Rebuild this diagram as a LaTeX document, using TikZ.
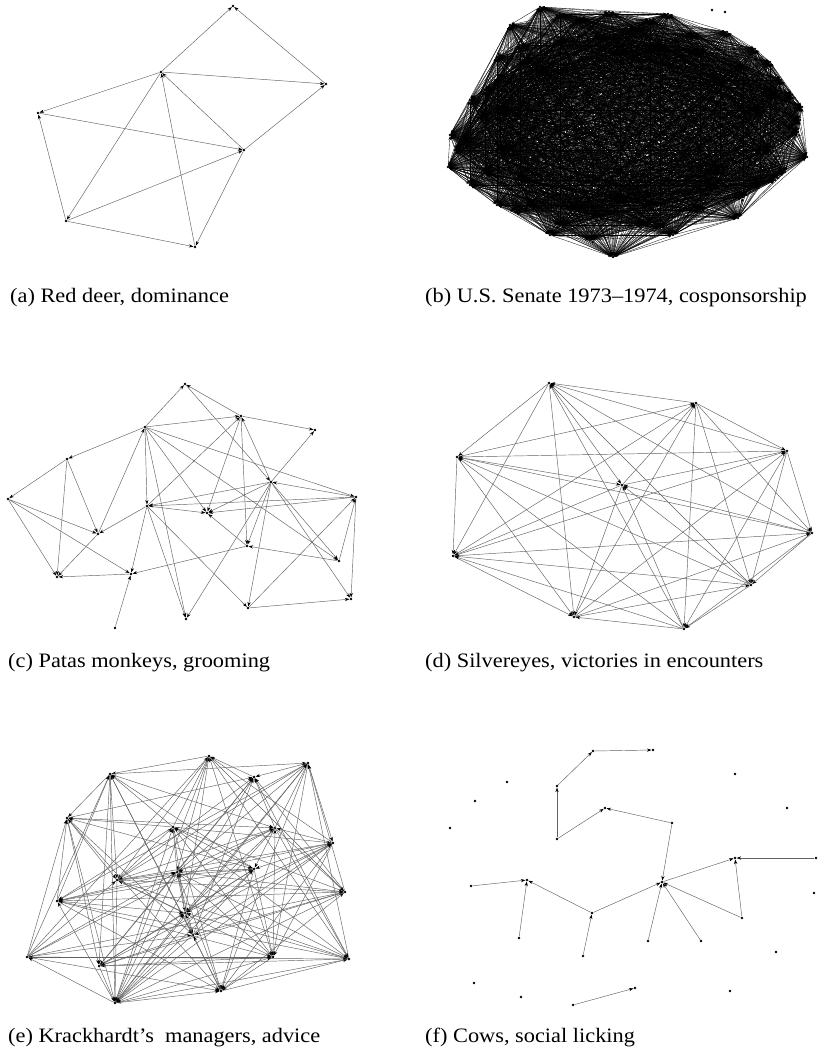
\documentclass[tikz,border=0pt]{standalone}
\usepackage{fontspec}
\setmainfont{Liberation Serif}
\usetikzlibrary{arrows.meta}
\tikzset{
  dot/.style={circle,fill=black,inner sep=0pt,minimum size=2.8pt},
  edge/.style={draw=black!62,line width=0.45pt,-{Stealth[length=4.5pt,width=3.2pt,color=black]}},
  bedge/.style={draw=black,line width=0.3pt,-{Stealth[length=3.2pt,width=2.4pt,color=black]}},
  captext/.style={anchor=base west,inner sep=0pt,font=\fontsize{20.5}{23}\selectfont}
}
\newcommand{\capt}[1]{\scalebox{1.09}[1]{#1}}
\begin{document}
\begin{tikzpicture}[x=1pt,y=-1pt]
\useasboundingbox[fill=white] (0,0) rectangle (819,1051);

% ---------------- (a) Red deer ----------------
\foreach \p [count=\k] in {(233,6),(161,72),(326,84),(38,113),(244,150),(66,221),(195,247)}
  \node[dot] (a\k) at \p {};
\foreach \s/\t in {2/1,3/1,2/3,2/4,2/6,7/2,5/2,4/5,6/4,5/3,6/5,6/7,5/7}
  \draw[edge] (a\s) -- (a\t);

% ---------------- (b) U.S. Senate ----------------
\foreach \p [count=\k] in {(497,57),(510,25),(540,7),(560,14),(580,18),(609,12),(635,27),(650,20),(668,14),(694,33),
  (700,50),(727,32),(743,65),(755,49),(770,62),(781,80),(777,93),(792,95),(802,107),(800,120),
  (798,132),(807,157),(785,172),(775,180),(760,185),(743,197),(738,218),(713,187),(700,210),(673,235),
  (660,228),(643,225),(613,257),(597,217),(590,240),(573,210),(560,225),(550,235),(530,207),(515,212),
  (497,205),(485,173),(470,185),(448,167),(462,140),(450,135),(455,150),(470,100),(480,115),(498,78),
  (485,90),(600,35),(520,45),(525,60),(560,40),(620,50),(660,45),(720,80),(760,110),(770,150),
  (720,170),(650,205),(620,200),(520,180),(500,150),(500,110),(540,70)}
  \node[dot] (b\k) at \p {};
\foreach \i in {1,...,67}{
  \foreach \j in {1,...,67}{
    \ifnum\i<\j\relax
      \pgfmathtruncatemacro\pp{mod(\i+\j,2)}
      \ifnum\pp=0 \draw[bedge] (b\i) -- (b\j); \else \draw[bedge] (b\j) -- (b\i); \fi
    \fi
  }
}
\node[dot] (biso1) at (712,10) {};
\node[dot] (biso2) at (725,12) {};

% ---------------- (c) Patas monkeys ----------------
\foreach \p [count=\k] in {(185,384),(241,416),(315,430),(145,427),(67,459),(8,499),(271,482),(356,497),(147,506),(207,513),
  (98,534),(247,546),(339,561),(57,577),(131,574),(351,599),(248,608),(186,619),(115,628)}
  \node[dot] (c\k) at \p {};
\foreach \s/\t in {4/1,2/1,1/7,4/2,2/3,2/10,2/12,7/2,9/2,4/5,4/9,4/10,4/8,4/13,4/18,11/4,5/6,5/14,5/11,6/11,
  6/14,6/15,9/11,11/14,9/15,9/10,8/9,7/9,9/17,9/18,15/14,12/15,19/15,7/10,8/7,7/3,7/12,7/17,7/18,7/16,
  7/13,8/10,13/8,8/16,17/8,13/12,12/10,17/16}
  \draw[edge] (c\s) -- (c\t);

% ---------------- (d) Silvereyes ----------------
\foreach \p [count=\k] in {(549,383),(696,403),(457,457),(787,451),(622,485),(812,533),(453,556),(751,585),(574,617),(684,629)}
  \node[dot] (d\k) at \p {};
\foreach \i in {1,...,10}{
  \foreach \j in {1,...,10}{
    \ifnum\i<\j\relax
      \pgfmathtruncatemacro\pp{mod(\i+\j,2)}
      \ifnum\pp=0 \draw[edge] (d\i) -- (d\j); \else \draw[edge] (d\j) -- (d\i); \fi
    \fi
  }
}

% ---------------- (e) Krackhardt ----------------
\foreach \p [count=\k] in {(209,756),(308,763),(110,774),(254,777),(67,818),(173,827),(275,828),(333,843),(177,872),(254,869),
  (117,880),(57,901),(345,892),(185,913),(193,935),(27,957),(99,966),(273,957),(349,959),(221,991),(115,1003)}
  \node[dot] (e\k) at \p {};
\foreach \i in {1,...,21}{
  \foreach \j in {1,...,21}{
    \ifnum\i<\j\relax
      \pgfmathtruncatemacro\rr{mod(\i*7+\j*13+\i*\j*3,10)}
      \ifnum\rr<7
        \pgfmathtruncatemacro\pp{mod(\i+\j,2)}
        \ifnum\pp=0 \draw[edge] (e\i) -- (e\j); \else \draw[edge] (e\j) -- (e\i); \fi
      \fi
    \fi
  }
}

% ---------------- (f) Cows ----------------
\foreach \p [count=\k] in {(593,751),(653,750),(557,786),(507,782),(475,801),(450,828),(735,774),(787,808),(605,808),(672,823),
  (557,839),(735,858),(816,858),(662,882),(527,880),(471,886),(814,893),(592,913),(742,918),(519,938),
  (583,956),(648,941),(701,941),(776,952),(474,983),(521,997),(635,988),(573,1005),(730,991)}
  \node[dot] (f\k) at \p {};
\foreach \s/\t in {1/2,3/1,11/3,11/9,10/9,10/14,14/12,13/12,19/12,19/14,22/14,23/14,18/14,18/15,16/15,20/15,21/18,28/27}
  \draw[edge] (f\s) -- (f\t);

% ---------------- captions ----------------
\node[captext] (capa) at (10,302) {\capt{(a) Red deer, dominance}};
\node[captext] (capb) at (425,302) {\capt{(b) U.S. Senate 1973--1974, cosponsorship}};
\node[captext] (capc) at (8,667) {\capt{(c) Patas monkeys, grooming}};
\node[captext] (capd) at (425,667) {\capt{(d) Silvereyes, victories in encounters}};
\node[captext] (cape) at (8,1042) {\capt{(e) Krackhardt's\ \ managers, advice}};
\node[captext] (capf) at (425,1042) {\capt{(f) Cows, social licking}};
\end{tikzpicture}
\end{document}
